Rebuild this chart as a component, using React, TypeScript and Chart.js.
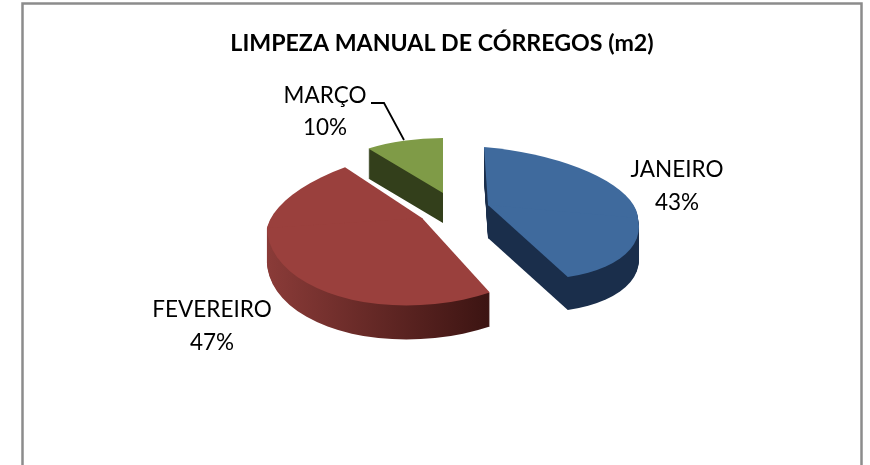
import React, { useEffect, useRef } from "react";
import { Chart, registerables } from "chart.js";

Chart.register(...registerables);

const categories = ["JANEIRO", "FEVEREIRO", "MARÇO"];
const shares = [43, 47, 10];
const title = "LIMPEZA MANUAL DE CÓRREGOS (m2)";

const topColors = ["#3f6a9d", "#9a403d", "#7f9b47"];
const wallFrom = ["#1a2e4b", "#8a3b38", "#333f1b"];
const wallTo = ["#1a2e4b", "#3c1412", "#333f1b"];

// projection of each exploded slice: apex, half-axes, shear and extrusion depth
const projection = [
  { X: 488, Y: 205, a: 150, c: 13, d1: 58, d2: 73.4, s1: 4, s2: 17.6, depth: 33 },
  { X: 422, Y: 218, a: 155, c: -10, d1: 70, d2: 87, s1: -17.5, s2: 2, depth: 34 },
  { X: 443, Y: 193, a: 127, c: 0, d1: 55, d2: 55, s1: 0, s2: 0, depth: 30 },
];
const labelPlace = [
  { x: 677, y1: 170, y2: 203 },
  { x: 212, y1: 310, y2: 343 },
  { x: 325, y1: 96, y2: 128 },
];
const FONT = "Lato";

const pie3d = {
  id: "pie3d",
  beforeDraw(chart: any) {
    const { ctx, width, height } = chart;
    ctx.save();
    ctx.fillStyle = "#ffffff";
    ctx.fillRect(0, 0, width, height);
    ctx.strokeStyle = "#8c8c8c";
    ctx.lineWidth = 2.5;
    ctx.beginPath();
    ctx.moveTo(22.5, height + 4);
    ctx.lineTo(22.5, 3.5);
    ctx.lineTo(861.5, 3.5);
    ctx.lineTo(861.5, height + 4);
    ctx.stroke();
    ctx.restore();
  },
  beforeDatasetDraw(chart: any) {
    const { ctx } = chart;
    const arcs = chart.getDatasetMeta(0).data;
    const order = [2, 0, 1];
    const paint = (arc: any, p: any, fill: any, shift: number) => {
      const R = arc.outerRadius;
      const cx = arc.x;
      const cy = arc.y;
      const halves = [
        { s: p.s1, d: p.d1, top: cy - 2 * R, h: 2 * R + 3 },
        { s: p.s2, d: p.d2, top: cy, h: 2 * R },
      ];
      for (const half of halves) {
        ctx.save();
        ctx.translate(0, shift);
        const A = p.a / R;
        const C = p.c / R;
        const S = half.s / R;
        const D = half.d / R;
        ctx.transform(A, C, S, D, p.X - A * cx - S * cy, p.Y - C * cx - D * cy);
        ctx.beginPath();
        ctx.rect(cx - 2 * R, half.top, 4 * R, half.h);
        ctx.clip();
        const old = arc.options.backgroundColor;
        arc.options.backgroundColor = fill;
        arc.draw(ctx);
        arc.options.backgroundColor = old;
        ctx.restore();
      }
    };
    for (const i of order) {
      const arc = arcs[i];
      const p = projection[i];
      const R = arc.outerRadius;
      const grad = ctx.createLinearGradient(arc.x - R, 0, arc.x + 0.42 * R, 0);
      grad.addColorStop(0, wallFrom[i]);
      grad.addColorStop(1, wallTo[i]);
      for (let k = p.depth; k >= 1; k--) paint(arc, p, grad, k);
      paint(arc, p, topColors[i], 0);
    }
    return false;
  },
  afterDatasetsDraw(chart: any) {
    const { ctx } = chart;
    ctx.save();
    ctx.fillStyle = "#000000";
    ctx.textAlign = "center";
    ctx.textBaseline = "middle";
    ctx.font = `22.5px ${FONT}`;
    const total = shares.reduce((s, v) => s + v, 0);
    categories.forEach((name, i) => {
      const l = labelPlace[i];
      ctx.fillText(name, l.x, l.y1);
      ctx.fillText(`${Math.round((shares[i] / total) * 100)}%`, l.x, l.y2);
    });
    // leader line of the smallest slice
    ctx.strokeStyle = "#000000";
    ctx.lineWidth = 1.8;
    ctx.beginPath();
    ctx.moveTo(371, 103);
    ctx.lineTo(384, 103);
    ctx.lineTo(404, 140);
    ctx.stroke();
    ctx.restore();
  },
};

export default function App() {
  const ref = useRef<HTMLCanvasElement>(null);
  useEffect(() => {
    document.body.style.margin = "0";
    const chart = new Chart(ref.current as HTMLCanvasElement, {
      type: "pie",
      data: {
        labels: categories,
        datasets: [{ data: shares, backgroundColor: topColors, borderWidth: 0 }],
      },
      options: {
        animation: false,
        responsive: false,
        events: [],
        layout: { padding: { left: 14 } },
        plugins: {
          legend: { display: false },
          tooltip: { enabled: false },
          title: {
            display: true,
            text: title,
            color: "#000000",
            font: { family: FONT, size: 23.2, weight: "bold" },
            padding: { top: 30, bottom: 10 },
          },
        },
      },
      plugins: [pie3d],
    } as any);
    return () => chart.destroy();
  }, []);
  return <canvas ref={ref} width={870} height={465} style={{ display: "block" }} />;
}
